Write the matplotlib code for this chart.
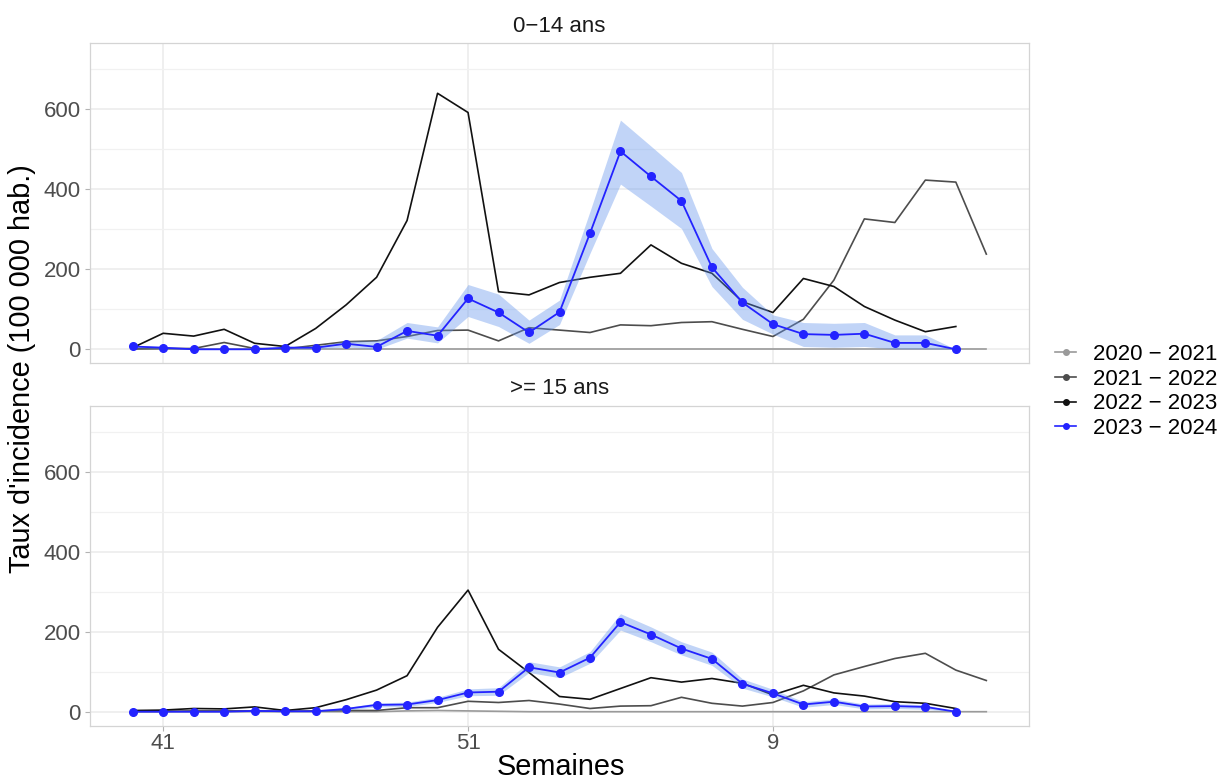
import matplotlib.pyplot as plt
from matplotlib.lines import Line2D
from matplotlib.ticker import MultipleLocator

plt.rcParams['font.family'] = ['Liberation Sans', 'DejaVu Sans']

# semaines 40 -> 52 puis 1 -> 16
semaines = [str(w) for w in list(range(40, 53)) + list(range(1, 17))]
saisons = ['2020 \u2212 2021', '2021 \u2212 2022', '2022 \u2212 2023', '2023 \u2212 2024']
panels = ['0\u221214 ans', '>= 15 ans']

# 0-14 ans
enf_2020 = [0] * 29
enf_2021 = [1, 2, 2, 17, 2, 1, 10, 19, 21, 32, 47, 48, 21, 54, 48, 42, 61, 59, 67, 69,
            50, 32, 75, 173, 326, 317, 423, 418, 238]
enf_2022 = [4, 40, 33, 50, 15, 7, 52, 111, 180, 322, 640, 592, 144, 136, 167, 180, 190, 261,
            215, 190, 119, 92, 177, 157, 107, 73, 44, 57]
enf_2023 = [7, 4, 0, 0, 0, 4, 4, 14, 6, 46, 34, 127, 92, 42, 93, 290, 495, 432, 371, 205,
            117, 63, 38, 36, 39, 16, 16, 0]
enf_2023_haut = [10, 7, 2, 2, 2, 8, 8, 21, 22, 67, 56, 162, 138, 73, 123, 345, 573, 508, 442,
                 252, 155, 86, 67, 65, 67, 36, 36, 0]
enf_2023_bas = [4, 1, 0, 0, 0, 1, 1, 6, 0, 28, 16, 82, 57, 15, 62, 240, 413, 358, 302, 157,
                75, 38, 7, 5, 7, 1, 1, 0]

# >= 15 ans
adu_2020 = [0, 0, 0, 0, 0, 0, 0, 0, 0, 2, 3, 2, 1, 0, 0, 0, 0, 0, 0, 0, 0, 0, 0, 0, 0, 0,
            0, 0, 0]
adu_2021 = [1, 1, 2, 2, 2, 1, 2, 3, 3, 10, 10, 26, 23, 28, 19, 8, 14, 15, 36, 21, 14, 23, 52,
            92, 113, 133, 146, 104, 78]
adu_2022 = [3, 4, 8, 7, 12, 3, 10, 30, 54, 90, 211, 304, 156, 98, 38, 31, 58, 85, 74, 83, 71,
            42, 66, 47, 39, 25, 21, 8]
adu_2023 = [0, 0, 0, 0, 2, 1, 1, 7, 17, 18, 29, 48, 50, 111, 98, 135, 224, 193, 158, 132, 70,
            46, 18, 25, 13, 14, 12, 0]
adu_2023_haut = [2, 2, 2, 2, 4, 3, 3, 10, 22, 24, 36, 57, 60, 125, 112, 150, 245, 212, 175,
                 149, 82, 56, 25, 32, 19, 20, 17, 0]
adu_2023_bas = [0, 0, 0, 0, 0, 0, 0, 4, 12, 13, 23, 40, 41, 98, 85, 121, 204, 175, 142, 116,
                59, 37, 11, 18, 7, 8, 6, 0]

couleurs = ['#9a9a9a', '#4d4d4d', '#111111', '#2323ff']

fig = plt.figure(figsize=(12.2, 7.8), dpi=100)
ax1 = fig.add_axes([90 / 1220, 1 - 363.3 / 780, 939 / 1220, 320 / 780])
ax2 = fig.add_axes([90 / 1220, 1 - 725.7 / 780, 939 / 1220, 320 / 780])

donnees = [
    (ax1, [enf_2020, enf_2021, enf_2022], enf_2023, enf_2023_bas, enf_2023_haut),
    (ax2, [adu_2020, adu_2021, adu_2022], adu_2023, adu_2023_bas, adu_2023_haut),
]

for ax, anciennes, courante, bas, haut in donnees:
    for serie, col in zip(anciennes, couleurs[:3]):
        ax.plot(range(len(serie)), serie, color=col, lw=1.2, zorder=2)
    x = range(len(courante))
    ax.fill_between(x, bas, haut, color='cornflowerblue', alpha=0.4, lw=0, zorder=3)
    ax.plot(x, courante, color=couleurs[3], lw=1.3, marker='o', ms=5.5, zorder=4)

    ax.set_xlim(-1.4, 29.4)
    ax.set_ylim(-35, 765)
    ax.set_xticks([1, 11, 21])
    ax.yaxis.set_major_locator(MultipleLocator(200))
    ax.yaxis.set_minor_locator(MultipleLocator(100))
    ax.grid(which='major', color='#ebebeb', lw=1.1, zorder=0)
    ax.grid(which='minor', axis='y', color='#f1f1f1', lw=0.9, zorder=0)
    ax.set_axisbelow(True)
    for s in ax.spines.values():
        s.set_color('#d4d4d4')
        s.set_linewidth(0.9)
    ax.tick_params(axis='y', which='major', length=3.6, width=0.8, color='#b3b3b3',
                   labelsize=16, labelcolor='#4d4d4d', pad=3)
    ax.tick_params(axis='y', which='minor', length=0)
    ax.tick_params(axis='x', length=3.6, width=0.8, color='#b3b3b3',
                   labelsize=16, labelcolor='#4d4d4d', pad=2)

ax1.tick_params(axis='x', length=0, labelbottom=False)
ax2.set_xticklabels([semaines[i] for i in [1, 11, 21]])

fig.text(559.5 / 1220, 1 - 27 / 780, panels[0], ha='center', va='center',
         fontsize=16, color='#1a1a1a')
fig.text(559.5 / 1220, 1 - 389 / 780, panels[1], ha='center', va='center',
         fontsize=16, color='#1a1a1a')
fig.text(22 / 1220, 1 - 369 / 780, "Taux d'incidence (100 000 hab.)", rotation=90,
         ha='center', va='center', fontsize=20.8)
fig.text(560.5 / 1220, 1 - 767 / 780, 'Semaines', ha='center', va='center', fontsize=20.8)

handles = [Line2D([], [], color=c, lw=1.2, marker='o', ms=4) for c in couleurs]
fig.legend(handles, saisons, loc='center left', bbox_to_anchor=(1055 / 1220, 1 - 391.5 / 780),
           frameon=False, fontsize=16, handlelength=0.95, handletextpad=0.75,
           labelspacing=0.17, borderpad=0, borderaxespad=0)

fig.savefig('out.png', dpi=100)
